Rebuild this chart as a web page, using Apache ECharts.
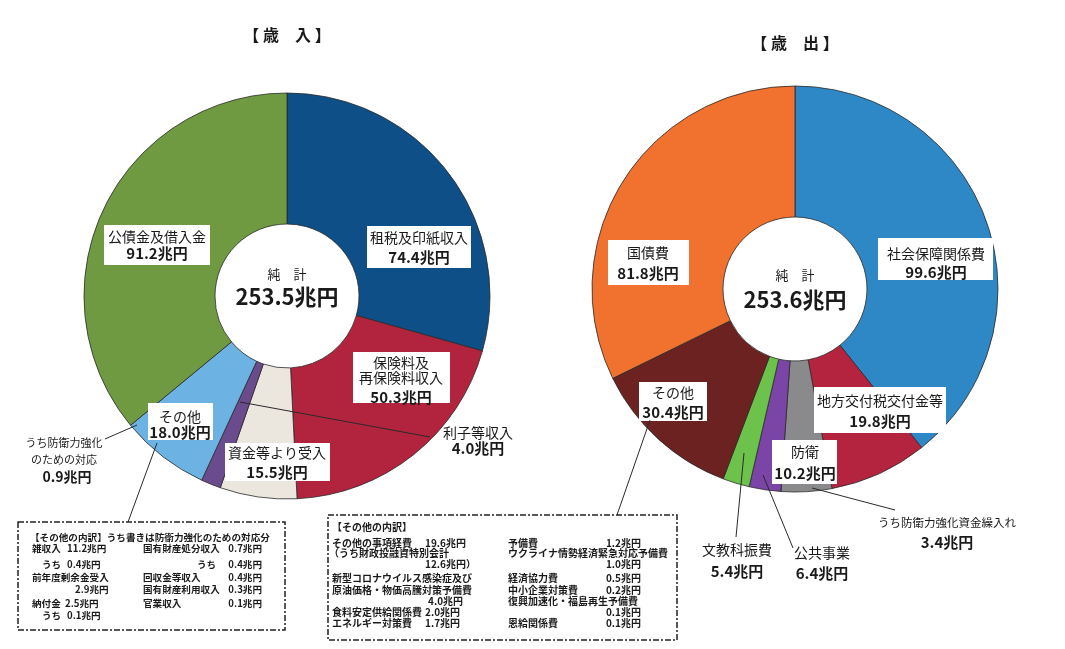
<!DOCTYPE html>
<html>
<head>
<meta charset="utf-8">
<script src="https://cdn.jsdelivr.net/npm/echarts@6/dist/echarts.min.js"></script>
<style>
html,body{margin:0;padding:0;background:#fff;}
#c{width:1065px;height:649px;}
</style>
</head>
<body>
<div id="c"></div>
<script>
// ---- data ----
const revenueTitle = '【 歳　入 】';
const revenueNames = ['租税及印紙収入', '保険料及再保険料収入', '資金等より受入', '利子等収入', 'その他', '公債金及借入金'];
const revenueValues = [74.4, 50.3, 15.5, 4.0, 18.0, 91.2];
const revenueColors = ['#0d4f86', '#b2243d', '#ebe7de', '#6a4b8e', '#6cb3e3', '#709a41'];
const revenueTotal = 253.5;
const revenueDefense = 0.9;

const expenseTitle = '【 歳　出 】';
const expenseNames = ['社会保障関係費', '地方交付税交付金等', '防衛', '公共事業', '文教科振費', 'その他', '国債費'];
const expenseValues = [99.6, 19.8, 10.2, 6.4, 5.4, 30.4, 81.8];
const expenseColors = ['#2e88c6', '#b4243e', '#8a8a8c', '#7a45a6', '#6cc24b', '#6b2220', '#f1722f'];
const expenseTotal = 253.6;
const expenseDefense = 3.4;

// label line splits (text only)
const revenueLabelLines = [['租税及印紙収入'], ['保険料及', '再保険料収入'], ['資金等より受入'], ['利子等収入'], ['その他'], ['公債金及借入金']];
const expenseLabelLines = [['社会保障関係費'], ['地方交付税交付金等'], ['防衛'], ['公共事業'], ['文教科振費'], ['その他'], ['国債費']];

// breakdown boxes text
const revenueBoxRows = [
  {t:'【その他の内訳】うち書きは防衛力強化のための対応分', x:30, y:537},
  {t:'雑収入', x:32, y:548}, {t:'11.2兆円', x:67, y:548}, {t:'国有財産処分収入', x:143, y:548}, {t:'0.7兆円', x:262, y:548, r:1},
  {t:'うち', x:42, y:564}, {t:'0.4兆円', x:67, y:564}, {t:'うち', x:197, y:564}, {t:'0.4兆円', x:262, y:564, r:1},
  {t:'前年度剰余金受入', x:32, y:577}, {t:'回収金等収入', x:143, y:577}, {t:'0.4兆円', x:262, y:577, r:1},
  {t:'2.9兆円', x:75, y:589}, {t:'国有財産利用収入', x:143, y:589}, {t:'0.3兆円', x:262, y:589, r:1},
  {t:'納付金', x:32, y:603}, {t:'2.5兆円', x:65, y:603}, {t:'官業収入', x:143, y:603}, {t:'0.1兆円', x:262, y:603, r:1},
  {t:'うち', x:42, y:615}, {t:'0.1兆円', x:67, y:615}
];
const expenseBoxRows = [
  {t:'【その他の内訳】', x:332, y:527},
  {t:'その他の事項経費', x:332, y:543}, {t:'19.6兆円', x:425, y:543}, {t:'予備費', x:508, y:543}, {t:'1.2兆円', x:641, y:543, r:1},
  {t:'（うち財政投融資特別会計', x:329, y:553}, {t:'ウクライナ情勢経済緊急対応予備費', x:508, y:553},
  {t:'12.6兆円）', x:425, y:564}, {t:'1.0兆円', x:641, y:564, r:1},
  {t:'新型コロナウイルス感染症及び', x:332, y:578}, {t:'経済協力費', x:508, y:578}, {t:'0.5兆円', x:641, y:578, r:1},
  {t:'原油価格・物価高騰対策予備費', x:332, y:590}, {t:'中小企業対策費', x:508, y:590}, {t:'0.2兆円', x:641, y:590, r:1},
  {t:'4.0兆円', x:428, y:601}, {t:'復興加速化・福島再生予備費', x:508, y:601},
  {t:'食料安定供給関係費', x:332, y:612}, {t:'2.0兆円', x:425, y:612}, {t:'0.1兆円', x:641, y:612, r:1},
  {t:'エネルギー対策費', x:332, y:623}, {t:'1.7兆円', x:425, y:623}, {t:'恩給関係費', x:508, y:623}, {t:'0.1兆円', x:641, y:623, r:1}
];

// ---- layout (positions only) ----
const FONT = "'Noto Sans CJK JP', 'Noto Sans', sans-serif";
const revenueLayout = [
  {box:[367,226,471,268], cx:419, ly:[238], vy:257},
  {box:[353,352,450,403], cx:401, ly:[363,378], vy:397},
  {box:[225,443,330,481], cx:277, ly:[453], vy:472},
  {box:null, cx:478, ly:[433], vy:448},
  {box:[148,403,213,440], cx:180, ly:[417], vy:432},
  {box:[104,225,210,265], cx:157, ly:[237], vy:253}
];
const expenseLayout = [
  {box:[878,238,993,280], cx:936, ly:[254], vy:272},
  {box:[814,387,946,433], cx:880, ly:[401], vy:421},
  {box:[772,440,837,484], cx:805, ly:[452], vy:473},
  {box:null, cx:822, ly:[553], vy:573},
  {box:null, cx:737, ly:[550], vy:571},
  {box:[639,382,707,421], cx:673, ly:[393], vy:412},
  {box:[608,240,689,285], cx:648, ly:[253], vy:273}
];
const leaderLines = [
  [240,402,430,437], [105,439,137,425], [157,443,128,522],
  [650,420,617,515], [744,453,736,537], [763,475,793,548], [812,488,895,510]
];

function fmt(v){ return v.toFixed(1) + '兆円'; }

const graphics = [];
function txt(t, x, y, size, bold, align){
  graphics.push({type:'text', silent:true, z:10, style:{text:t, x:x, y:y, fill:'#1a1a1a',
    font:(bold?'bold ':'') + size + 'px ' + FONT, align:align||'center', verticalAlign:'middle'}});
}
function addLabels(lines, values, layout){
  layout.forEach(function(L, i){
    if (L.box) {
      graphics.push({type:'rect', silent:true, z:9, shape:{x:L.box[0], y:L.box[1], width:L.box[2]-L.box[0], height:L.box[3]-L.box[1]}, style:{fill:'#ffffff'}});
    }
    lines[i].forEach(function(s, k){ txt(s, L.cx, L.ly[k], 14, false); });
    txt(fmt(values[i]), L.cx, L.vy, 15, true);
  });
}
addLabels(revenueLabelLines, revenueValues, revenueLayout);
addLabels(expenseLabelLines, expenseValues, expenseLayout);

// titles & totals
txt(revenueTitle, 287, 35, 16, true);
txt(expenseTitle, 795, 43, 16, true);
txt('純　計', 287, 274, 13, false);
txt(revenueTotal.toFixed(1) + '兆円', 287, 297, 22, true);
txt('純　計', 795, 275, 13, false);
txt(expenseTotal.toFixed(1) + '兆円', 795, 300, 22, true);

// defense notes
txt('うち防衛力強化', 64, 443, 11, false);
txt('のための対応', 64, 460, 11, false);
txt(fmt(revenueDefense), 67, 477, 14, true);
txt('うち防衛力強化資金繰入れ', 947, 523, 11.5, false);
txt(fmt(expenseDefense), 947, 542, 15, true);

leaderLines.forEach(function(l){
  graphics.push({type:'line', silent:true, z:11, shape:{x1:l[0], y1:l[1], x2:l[2], y2:l[3]}, style:{stroke:'#2a2a2a', lineWidth:1}});
});

// breakdown boxes
graphics.push({type:'rect', silent:true, z:5, shape:{x:18, y:522, width:267, height:108}, style:{fill:'#fff', stroke:'#222', lineWidth:1.5, lineDash:[6,2,2,2]}});
graphics.push({type:'rect', silent:true, z:5, shape:{x:328, y:515, width:349, height:125}, style:{fill:'#fff', stroke:'#222', lineWidth:1.5, lineDash:[6,2,2,2]}});
revenueBoxRows.forEach(function(r){ txt(r.t, r.x, r.y, 9.6, true, r.r ? 'right' : 'left'); });
expenseBoxRows.forEach(function(r){ txt(r.t, r.x, r.y, 10, true, r.r ? 'right' : 'left'); });

function pieSeries(names, values, colors, center){
  return {
    type:'pie', silent:true, clockwise:true, startAngle:90,
    center:center, radius:[72, 203],
    label:{show:false}, labelLine:{show:false},
    itemStyle:{borderColor:'#2a2a2a', borderWidth:0.8},
    data: names.map(function(n, i){ return {name:n, value:values[i], itemStyle:{color:colors[i]}}; })
  };
}

const chart = echarts.init(document.getElementById('c'), null, {renderer:'canvas'});
chart.setOption({
  animation:false,
  backgroundColor:'#ffffff',
  series:[
    pieSeries(revenueNames, revenueValues, revenueColors, [287, 296]),
    pieSeries(expenseNames, expenseValues, expenseColors, [795, 289])
  ],
  graphic: graphics
});
</script>
</body>
</html>
